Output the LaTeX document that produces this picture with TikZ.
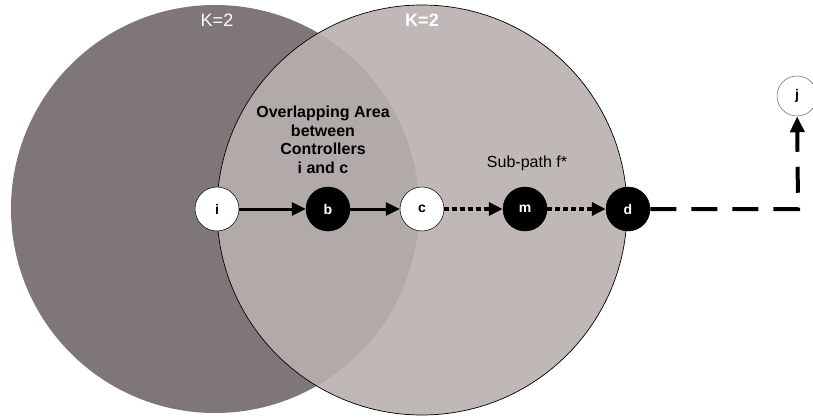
\documentclass[tikz,border=0pt]{standalone}
\usepackage{fontspec}
\setmainfont{Liberation Sans}
\usetikzlibrary{arrows.meta}

\definecolor{ctrlzone}{HTML}{7E7677}
\definecolor{nextzone}{HTML}{C0B8B6}
\definecolor{sharedzone}{HTML}{B1AAA9}

\tikzset{
  whitesw/.style={circle,draw=black,line width=0.5pt,fill=white,minimum size=44pt,inner sep=0pt,font=\fontsize{14}{14}\selectfont\bfseries},
  blacksw/.style={whitesw,fill=black,text=white},
  farsw/.style={circle,draw=black!60,line width=0.5pt,fill=white,minimum size=40pt,inner sep=0pt,font=\fontsize{14}{14}\selectfont\bfseries},
  hop/.style={line width=3pt,-{Triangle[length=14pt,width=13pt]}},
  subhop/.style={hop,line width=4pt,dash pattern=on 5pt off 3pt},
  outhop/.style={line width=4pt,dash pattern=on 26pt off 15pt,-{Triangle[length=16pt,width=14pt]}}
}

\begin{document}
\begin{tikzpicture}[x=1pt,y=-1pt]
\useasboundingbox (0,0) rectangle (813,417);

% controller domains
\fill[ctrlzone] (215,209) circle (204pt);
\fill[nextzone] (422,210) circle (205pt);
\begin{scope}
  \clip (215,209) circle (204pt);
  \fill[sharedzone] (422,210) circle (205pt);
\end{scope}
\draw[line width=0.7pt] (422,210) circle (205pt);

\node[text=white,font=\fontsize{18}{18}\selectfont] (kleft) at (217,20) {K=2};
\node[text=white,font=\fontsize{18}{18}\selectfont\bfseries] (kright) at (422,20) {K=2};

\node[align=center,font=\fontsize{16}{18.5}\selectfont\bfseries] (shared) at (323,140)
  {Overlapping Area\\between\\Controllers\\i and c};
\node[font=\fontsize{16}{16}\selectfont] (subpath) at (527,163) {Sub-path f*};

% switches on the path
\node[whitesw] (i) at (217,209) {i};
\node[blacksw] (b) at (328,209) {b};
\node[whitesw] (c) at (422,209) {c};
\node[blacksw] (m) at (525,209) {m};
\node[blacksw] (d) at (628,209) {d};
\node[farsw] (j) at (797,96) {j};
\coordinate (turn) at (798,209);

\draw[hop] (i) -- (b);
\draw[hop] (b) -- (c);
\draw[subhop] (c) -- (m);
\draw[subhop] (m) -- (d);
\draw[outhop] (d) -- (turn) -- (j);
\end{tikzpicture}
\end{document}
